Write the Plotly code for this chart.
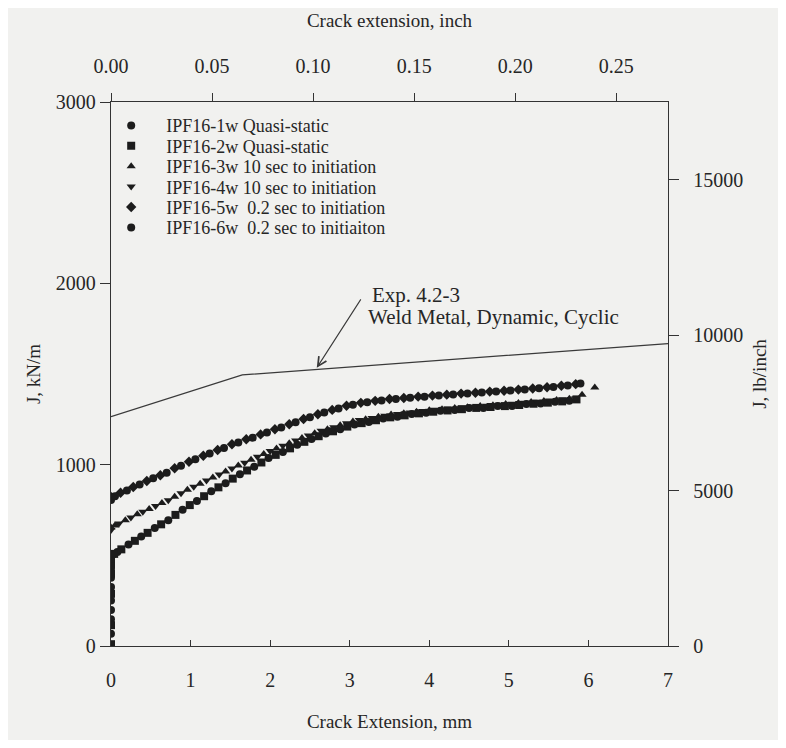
import plotly.graph_objects as go

# ---------------- data ----------------
x_1w = [0, 0, 0, 0, 0, 0, 0, 0, 0, 0.02, 0.08, 0.22, 0.38, 0.55, 0.72, 0.9, 1.08, 1.26, 1.44, 1.62,
        1.8, 1.98, 2.16, 2.34, 2.52, 2.7, 2.88, 3.06, 3.24, 3.42, 3.6, 3.78, 3.96, 4.14, 4.32, 4.5,
        4.68, 4.86, 5.04, 5.22, 5.4, 5.58, 5.76]
j_1w = [0, 68, 147, 199, 251, 325, 377, 430, 470, 503, 519, 560, 604, 651, 694, 752, 800, 853, 897, 947,
        988, 1037, 1070, 1110, 1141, 1172, 1195, 1222, 1235, 1255, 1264, 1279, 1286, 1298, 1301, 1312,
        1313, 1323, 1324, 1335, 1337, 1347, 1353]

x_2w = [0, 0, 0, 0, 0, 0, 0.04, 0.13, 0.3, 0.46, 0.63, 0.81, 0.99, 1.17, 1.35, 1.53, 1.71, 1.89, 2.07,
        2.25, 2.43, 2.61, 2.79, 2.97, 3.15, 3.33, 3.51, 3.69, 3.87, 4.05, 4.23, 4.41, 4.59, 4.77, 4.95,
        5.13, 5.31, 5.49, 5.67, 5.85]
j_2w = [10, 115, 288, 400, 450, 485, 508, 533, 580, 624, 671, 723, 777, 826, 875, 923, 968, 1012, 1054,
        1090, 1126, 1157, 1184, 1210, 1229, 1245, 1261, 1272, 1283, 1292, 1299, 1306, 1313, 1318, 1323,
        1329, 1336, 1342, 1349, 1360]

x_3w = [0, 0.05, 0.18, 0.33, 0.48, 0.64, 0.8, 0.96, 1.12, 1.28, 1.44, 1.6, 1.76, 1.92, 2.08, 2.24, 2.4,
        2.56, 2.72, 2.88, 3.04, 3.2, 3.36, 3.52, 3.68, 3.84, 4.0, 4.16, 4.32, 4.48, 4.64, 4.8, 4.96,
        5.12, 5.28, 5.44, 5.6, 5.76, 5.92, 6.08]
j_3w = [654, 665, 694, 726, 756, 789, 823, 861, 895, 929, 963, 995, 1027, 1059, 1089, 1118, 1147,
        1173, 1195, 1218, 1238, 1251, 1264, 1276, 1284, 1292, 1300, 1306, 1312, 1317, 1323, 1328, 1334,
        1340, 1345, 1351, 1357, 1363, 1385, 1425]

x_4w = [0, 0.1, 0.25, 0.4, 0.56, 0.72, 0.88, 1.04, 1.2, 1.36, 1.52, 1.68, 1.84, 2.0, 2.16, 2.32, 2.48,
        2.64, 2.8, 2.96, 3.12, 3.28, 3.44, 3.6, 3.76, 3.92, 4.08, 4.24, 4.4, 4.56, 4.72, 4.88, 5.04,
        5.2, 5.36, 5.52, 5.68, 5.84]
j_4w = [640, 675, 709, 740, 772, 804, 842, 878, 912, 946, 979, 1011, 1043, 1075, 1104, 1133, 1161,
        1187, 1207, 1229, 1246, 1258, 1270, 1280, 1288, 1296, 1302, 1309, 1314, 1320, 1325, 1331, 1336,
        1342, 1347, 1353, 1359, 1366]

x_5w = [0, 0.12, 0.28, 0.45, 0.62, 0.8, 0.98, 1.16, 1.34, 1.52, 1.7, 1.88, 2.06, 2.24, 2.42, 2.6, 2.78,
        2.96, 3.14, 3.32, 3.5, 3.68, 3.86, 4.04, 4.22, 4.4, 4.58, 4.76, 4.94, 5.12, 5.3, 5.48, 5.66, 5.84]
j_5w = [822, 845, 877, 910, 942, 980, 1016, 1049, 1081, 1113, 1140, 1167, 1195, 1223, 1252, 1278, 1302,
        1325, 1341, 1352, 1362, 1368, 1375, 1381, 1386, 1392, 1397, 1403, 1408, 1414, 1420, 1427, 1435, 1444]

x_6w = [0, 0.05, 0.2, 0.36, 0.53, 0.7, 0.88, 1.06, 1.24, 1.42, 1.6, 1.78, 1.96, 2.14, 2.32, 2.5, 2.68,
        2.86, 3.04, 3.22, 3.4, 3.58, 3.76, 3.94, 4.12, 4.3, 4.48, 4.66, 4.84, 5.02, 5.2, 5.38, 5.56,
        5.74, 5.9]
j_6w = [805, 826, 858, 890, 925, 956, 994, 1030, 1061, 1092, 1122, 1149, 1177, 1205, 1234, 1262, 1287,
        1310, 1330, 1344, 1354, 1362, 1369, 1375, 1381, 1387, 1392, 1398, 1404, 1409, 1415, 1421, 1428,
        1436, 1448]

# Exp. 4.2-3 reference curve
x_exp = [0, 1.65, 7.0]
j_exp = [1265, 1495, 1668]

series_names = ["IPF16-1w Quasi-static", "IPF16-2w Quasi-static", "IPF16-3w 10 sec to initiation",
                "IPF16-4w 10 sec to initiation", "IPF16-5w  0.2 sec to initiation",
                "IPF16-6w  0.2 sec to initiaiton"]
series_symbols = ["circle", "square", "triangle-up", "triangle-down", "diamond", "circle"]

x_ticks_mm = [0, 1, 2, 3, 4, 5, 6, 7]
inch_ticks = [0.00, 0.05, 0.10, 0.15, 0.20, 0.25]
inch_labels = ["0.00", "0.05", "0.10", "0.15", "0.20", "0.25"]
j_ticks = [0, 1000, 2000, 3000]
lb_ticks = [0, 5000, 10000, 15000]
lb_labels = ["0", "5000", "10000", "15000"]

# ---------------- figure ----------------
FONT = "Liberation Serif, Times New Roman, serif"
INK = "#262626"
BG = "#f1f1ef"
TICK_SIZE = 20
TITLE_SIZE = 19
LEGEND_SIZE = 18

fig = go.Figure()

xs = [x_1w, x_2w, x_3w, x_4w, x_5w, x_6w]
js = [j_1w, j_2w, j_3w, j_4w, j_5w, j_6w]
legend_ids = ["legend", "legend2", "legend3", "legend4", "legend5", "legend6"]
for xv, jv, name, sym, lg in zip(xs, js, series_names, series_symbols, legend_ids):
    fig.add_trace(go.Scatter(
        x=xv, y=jv, mode="markers", name=name, legend=lg,
        marker=dict(symbol=sym, size=8, color="#1c1c1c", line=dict(width=0)),
    ))

fig.add_trace(go.Scatter(x=x_exp, y=j_exp, mode="lines", showlegend=False,
                         line=dict(color="#3a3a3a", width=1.3)))

# invisible traces to activate the secondary axes
fig.add_trace(go.Scatter(x=[0], y=[0], xaxis="x2", yaxis="y", mode="markers",
                         marker=dict(opacity=0), showlegend=False, hoverinfo="skip"))
fig.add_trace(go.Scatter(x=[0], y=[0], xaxis="x", yaxis="y2", mode="markers",
                         marker=dict(opacity=0), showlegend=False, hoverinfo="skip"))

axis_common = dict(showgrid=False, zeroline=False, showline=True, linecolor="#333333",
                   linewidth=1.3, tickcolor="#333333", tickwidth=1.2,
                   tickfont=dict(family=FONT, size=TICK_SIZE, color=INK))
title_font = dict(family=FONT, size=TITLE_SIZE, color=INK)

# one single-entry legend per series so the rows sit as tightly as in the original
legend_rows_y = [0.9564, 0.9189, 0.8814, 0.8439, 0.8064, 0.7689]
legend_layout = {}
for lg, ly in zip(legend_ids, legend_rows_y):
    legend_layout[lg] = dict(x=-0.0266, y=ly, xanchor="left", yanchor="middle",
                             bgcolor="rgba(0,0,0,0)", borderwidth=0,
                             font=dict(family=FONT, size=LEGEND_SIZE, color=INK),
                             itemwidth=60)

fig.update_layout(
    width=770, height=732,
    margin=dict(l=103, r=104, t=74, b=85),
    paper_bgcolor=BG, plot_bgcolor=BG,
    font=dict(family=FONT, size=TICK_SIZE, color=INK),
    showlegend=True,
    xaxis=dict(range=[0, 7], tickvals=x_ticks_mm, ticks="inside", ticklen=6,
               ticklabelstandoff=16,
               title=dict(text="Crack Extension, mm", standoff=24, font=title_font),
               **axis_common),
    xaxis2=dict(range=[0, 7 / 25.4], overlaying="x", side="top", tickvals=inch_ticks,
                ticktext=inch_labels, ticks="outside", ticklen=8, ticklabelstandoff=12,
                title=dict(text="Crack extension, inch", standoff=22, font=title_font),
                **axis_common),
    yaxis=dict(range=[0, 3000], tickvals=j_ticks, ticks="outside", ticklen=10,
               ticklabelstandoff=0,
               title=dict(text="J, kN/m", standoff=10, font=title_font),
               **axis_common),
    yaxis2=dict(range=[0, 17500], overlaying="y", side="right", tickvals=lb_ticks,
                ticktext=lb_labels, ticks="outside", ticklen=10, ticklabelstandoff=10,
                title=dict(text="J, lb/inch", standoff=10, font=title_font),
                **axis_common),
    **legend_layout,
)

fig.add_annotation(x=2.586, y=1534, xref="x", yref="y", text="", showarrow=True,
                   ax=45, ay=-70, arrowhead=5, arrowsize=1.6, arrowwidth=1.1,
                   arrowcolor="#3a3a3a")
fig.add_annotation(x=3.26, y=1937, xref="x", yref="y", text="Exp. 4.2-3",
                   showarrow=False, xanchor="left", yanchor="middle",
                   font=dict(family=FONT, size=21, color=INK))
fig.add_annotation(x=3.21, y=1812, xref="x", yref="y", text="Weld Metal, Dynamic, Cyclic",
                   showarrow=False, xanchor="left", yanchor="middle",
                   font=dict(family=FONT, size=21, color=INK))

fig.write_html("out.html")
